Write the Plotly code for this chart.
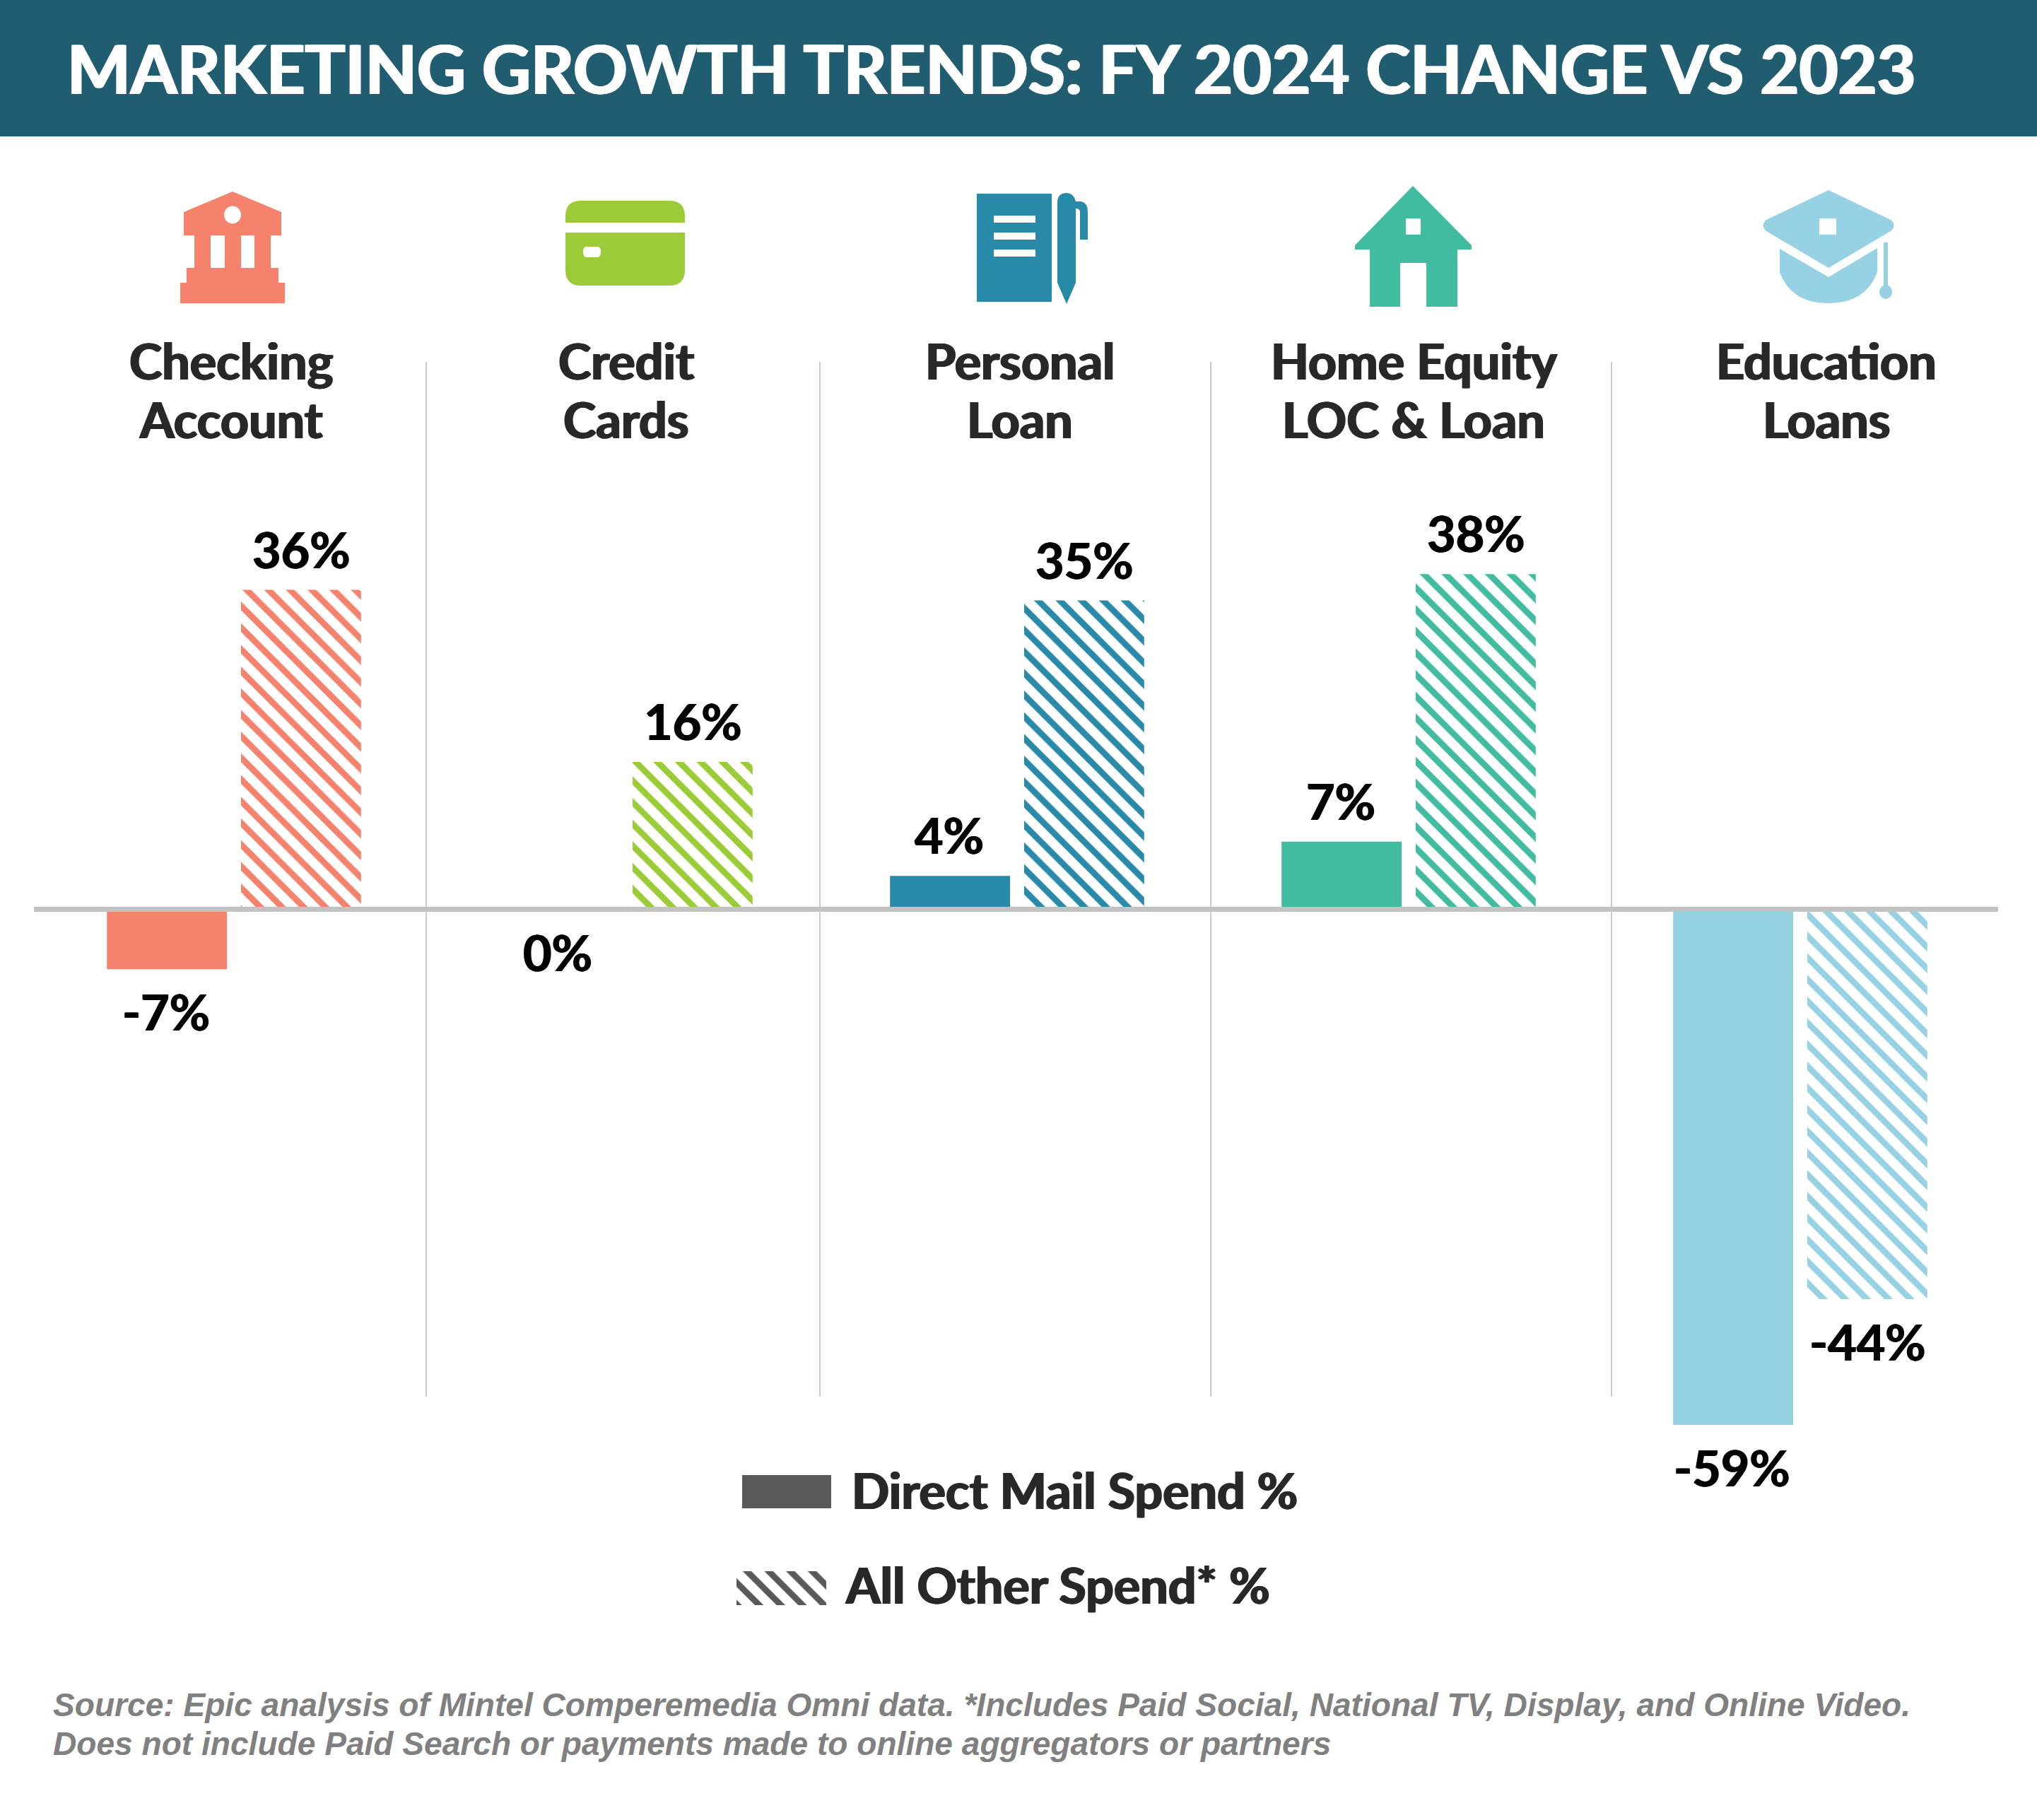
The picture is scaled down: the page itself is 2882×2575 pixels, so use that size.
import plotly.graph_objects as go

W, H = 2882, 2575

# data; bar lengths as drawn, labels as printed
categories = ["Checking<br>Account", "Credit<br>Cards", "Personal<br>Loan",
              "Home Equity<br>LOC & Loan", "Education<br>Loans"]
direct_mail = [-6.8, 0, 3.8, 7.7, -58.6]
all_other = [36.3, 16.75, 35.1, 38.1, -44.3]
direct_labels = ["-7%", "0%", "4%", "7%", "-59%"]
other_labels = ["36%", "16%", "35%", "38%", "-44%"]
colors = ["#F4826C", "#9BCC38", "#2889A9", "#41BCA0", "#97D2E4"]
title_text = "MARKETING GROWTH TRENDS: FY 2024 CHANGE VS 2023"
legend_labels = ["Direct Mail Spend %", "All Other Spend* %"]
source_lines = [
    "Source: Epic analysis of Mintel Comperemedia Omni data. *Includes Paid Social, National TV, Display, and Online Video.",
    "Does not include Paid Search or payments made to online aggregators or partners",
]

TEAL = "#205D70"
DARK = "#282828"
GREY = "#595959"
HATCH = dict(shape="\\", size=21.7, solidity=0.4, bgcolor="white", fillmode="replace")

xs = list(range(len(categories)))
fig = go.Figure()

fig.add_trace(go.Bar(x=xs, y=direct_mail, marker=dict(color=colors, line_width=0),
                     name=legend_labels[0], offsetgroup="a"))
fig.add_trace(go.Bar(x=xs, y=all_other,
                     marker=dict(color="white", line_width=0, pattern=dict(fgcolor=colors, **HATCH)),
                     name=legend_labels[1], offsetgroup="b"))

# legend swatches sit on a second axis pair that counts in page pixels
fig.add_trace(go.Bar(x=[1050], y=[47], base=[2087], width=[126], offset=0, xaxis="x2", yaxis="y2",
                     marker=dict(color=GREY, line_width=0), hoverinfo="skip"))
fig.add_trace(go.Bar(x=[1042], y=[48], base=[2223], width=[127], offset=0, xaxis="x2", yaxis="y2",
                     marker=dict(color="white", line_width=0, pattern=dict(fgcolor=GREY, **HATCH)),
                     hoverinfo="skip"))


def box(x0, y0, x1, y1, color, layer="above"):
    return dict(type="rect", xref="x2", yref="y2", x0=x0, y0=y0, x1=x1, y1=y1,
                fillcolor=color, line_width=0, layer=layer)


def path(d, color):
    return dict(type="path", xref="x2", yref="y2", path=d, fillcolor=color, line_width=0, layer="above")


def oval(cx, cy, rx, ry, color):
    return dict(type="circle", xref="x2", yref="y2", x0=cx - rx, y0=cy - ry, x1=cx + rx, y1=cy + ry,
                fillcolor=color, line_width=0, layer="above")


def fat(color, px):
    # Lato here stops at bold, the reference is heavier
    return f"{px}px 0 0 {color}, -{px}px 0 0 {color}"


shapes = [box(0, 0, W, 193, TEAL, "below")]

# separators and zero line
for sx in [603, 1160, 1713, 2280]:
    shapes.append(dict(type="line", xref="x2", yref="y2", x0=sx, x1=sx, y0=512, y1=1976,
                       line=dict(color="#BDBDBD", width=1.5), layer="below"))
shapes.append(dict(type="line", xref="x2", yref="y2", x0=48, x1=2827, y0=1286.5, y1=1286.5,
                   line=dict(color="#C2C2C2", width=7), layer="above"))

# bank
c = colors[0]
shapes += [
    path("M329,271 L398,300 L398,333 L383,333 L383,379 L394,379 L394,400 L403,400 L403,429 "
         "L255,429 L255,400 L264,400 L264,379 L275,379 L275,333 L260,333 L260,300 Z", c),
    oval(329, 304, 12, 12.5, "white"),
    box(298, 333, 318, 379, "white"),
    box(341, 333, 360, 379, "white"),
]
# card
c = colors[1]
shapes += [
    path("M822,284 L947,284 Q969,284 969,306 L969,315 L800,315 L800,306 Q800,284 822,284 Z", c),
    path("M800,329 L969,329 L969,382 Q969,404 947,404 L822,404 Q800,404 800,382 Z", c),
    path("M830,349 L845,349 Q850,349 850,356 Q850,364 845,364 L830,364 Q825,364 825,356 Q825,349 830,349 Z", "white"),
]
# notebook and pen
c = colors[2]
shapes += [
    box(1382, 274, 1488, 427, c),
    box(1406, 305, 1465, 315, "white"),
    box(1406, 329, 1465, 339, "white"),
    box(1406, 353, 1465, 363, "white"),
    path("M1496,285 Q1497,273 1509,273 Q1519,273 1522,285 L1530,285 Q1539,287 1539,300 L1539,339 L1528,339 "
         "L1528,300 Q1528,295 1522,295 L1522,400 L1509,430 L1496,400 Z", c),
]
# house
c = colors[3]
shapes += [
    path("M1999,263 L2082,347 L2082,353 L2062,353 L2062,434 L2018,434 L2018,372 L1981,372 L1981,434 "
         "L1938,434 L1938,353 L1917,353 L1917,347 Z", c),
    box(1989, 309, 2010, 332, "white"),
]
# grad cap
c = colors[4]
shapes += [
    path("M2587,269 L2675,311 Q2684,319 2675,327 L2587,379 L2499,327 Q2490,319 2499,311 Z", c),
    box(2574, 309, 2598, 332, "white"),
    path("M2518,352 L2587,392 L2656,351 L2656,385 Q2640,429 2587,429 Q2534,429 2518,385 Z", c),
    box(2665, 343, 2671, 405, c),
    oval(2668, 413, 9, 10, c),
]

annotations = []


def note(text, x, y, size, color, family="Lato", anchor="center", style="normal", shadow=None):
    annotations.append(dict(text=text, x=x, y=y, xref="x2", yref="y2", showarrow=False,
                            xanchor=anchor, yanchor="middle",
                            font=dict(family=family, size=size, color=color, weight=700, style=style,
                                      shadow=shadow or "none")))


# category heads, one line at a time for the tight leading
for cat, cx in zip(categories, [327, 886, 1443, 2000, 2584]):
    first, second = cat.split("<br>")
    note(first, cx, 510, 70, DARK, shadow=fat(DARK, 1.2))
    note(second, cx, 593, 70, DARK, shadow=fat(DARK, 1.2))

note(legend_labels[0], 1203, 2108, 70, DARK, anchor="left", shadow=fat(DARK, 1.2))
note(legend_labels[1], 1194, 2242, 70, DARK, anchor="left", shadow=fat(DARK, 1.2))
note(source_lines[0], 73, 2412, 46.1, "#808080", family="Liberation Sans", anchor="left", style="italic")
note(source_lines[1], 73, 2467, 46.1, "#808080", family="Liberation Sans", anchor="left", style="italic")

# value labels
for series, labels, shift in [(direct_mail, direct_labels, -96.5), (all_other, other_labels, 95.5)]:
    for i, v, lab in zip(xs, series, labels):
        annotations.append(dict(text=lab, x=i, y=v, xref="x", yref="y", xshift=shift,
                                yshift=58 if v > 0 else -60, showarrow=False, yanchor="middle",
                                font=dict(family="Lato", size=70, color="black", weight=700,
                                          shadow=fat("black", 0.8))))

fig.update_layout(
    width=W, height=H,
    margin=dict(l=0, r=0, t=0, b=0),
    paper_bgcolor="white", plot_bgcolor="rgba(0,0,0,0)",
    showlegend=False,
    barmode="group", bargap=0.315, bargroupgap=0.105,
    title=dict(text=title_text, x=95 / W, y=1 - 100 / H, xanchor="left", yanchor="middle",
               font=dict(family="Lato", size=95, color="white", weight=700, shadow=fat("white", 1.5))),
    xaxis=dict(domain=[54 / W, 2824 / W], range=[-0.5, 4.5], visible=False),
    yaxis=dict(domain=[1 - 2158 / H, 1 - 539.5 / H], range=[-70, 60], visible=False),
    xaxis2=dict(domain=[0, 1], range=[0, W], visible=False, anchor="y2"),
    yaxis2=dict(domain=[0, 1], range=[H, 0], visible=False, anchor="x2"),
    shapes=shapes, annotations=annotations,
)

# the page's default body margin would push the figure off by 8px
fig.write_html("out.html", config={"displayModeBar": False},
               post_script="document.body.style.margin = '0';")
